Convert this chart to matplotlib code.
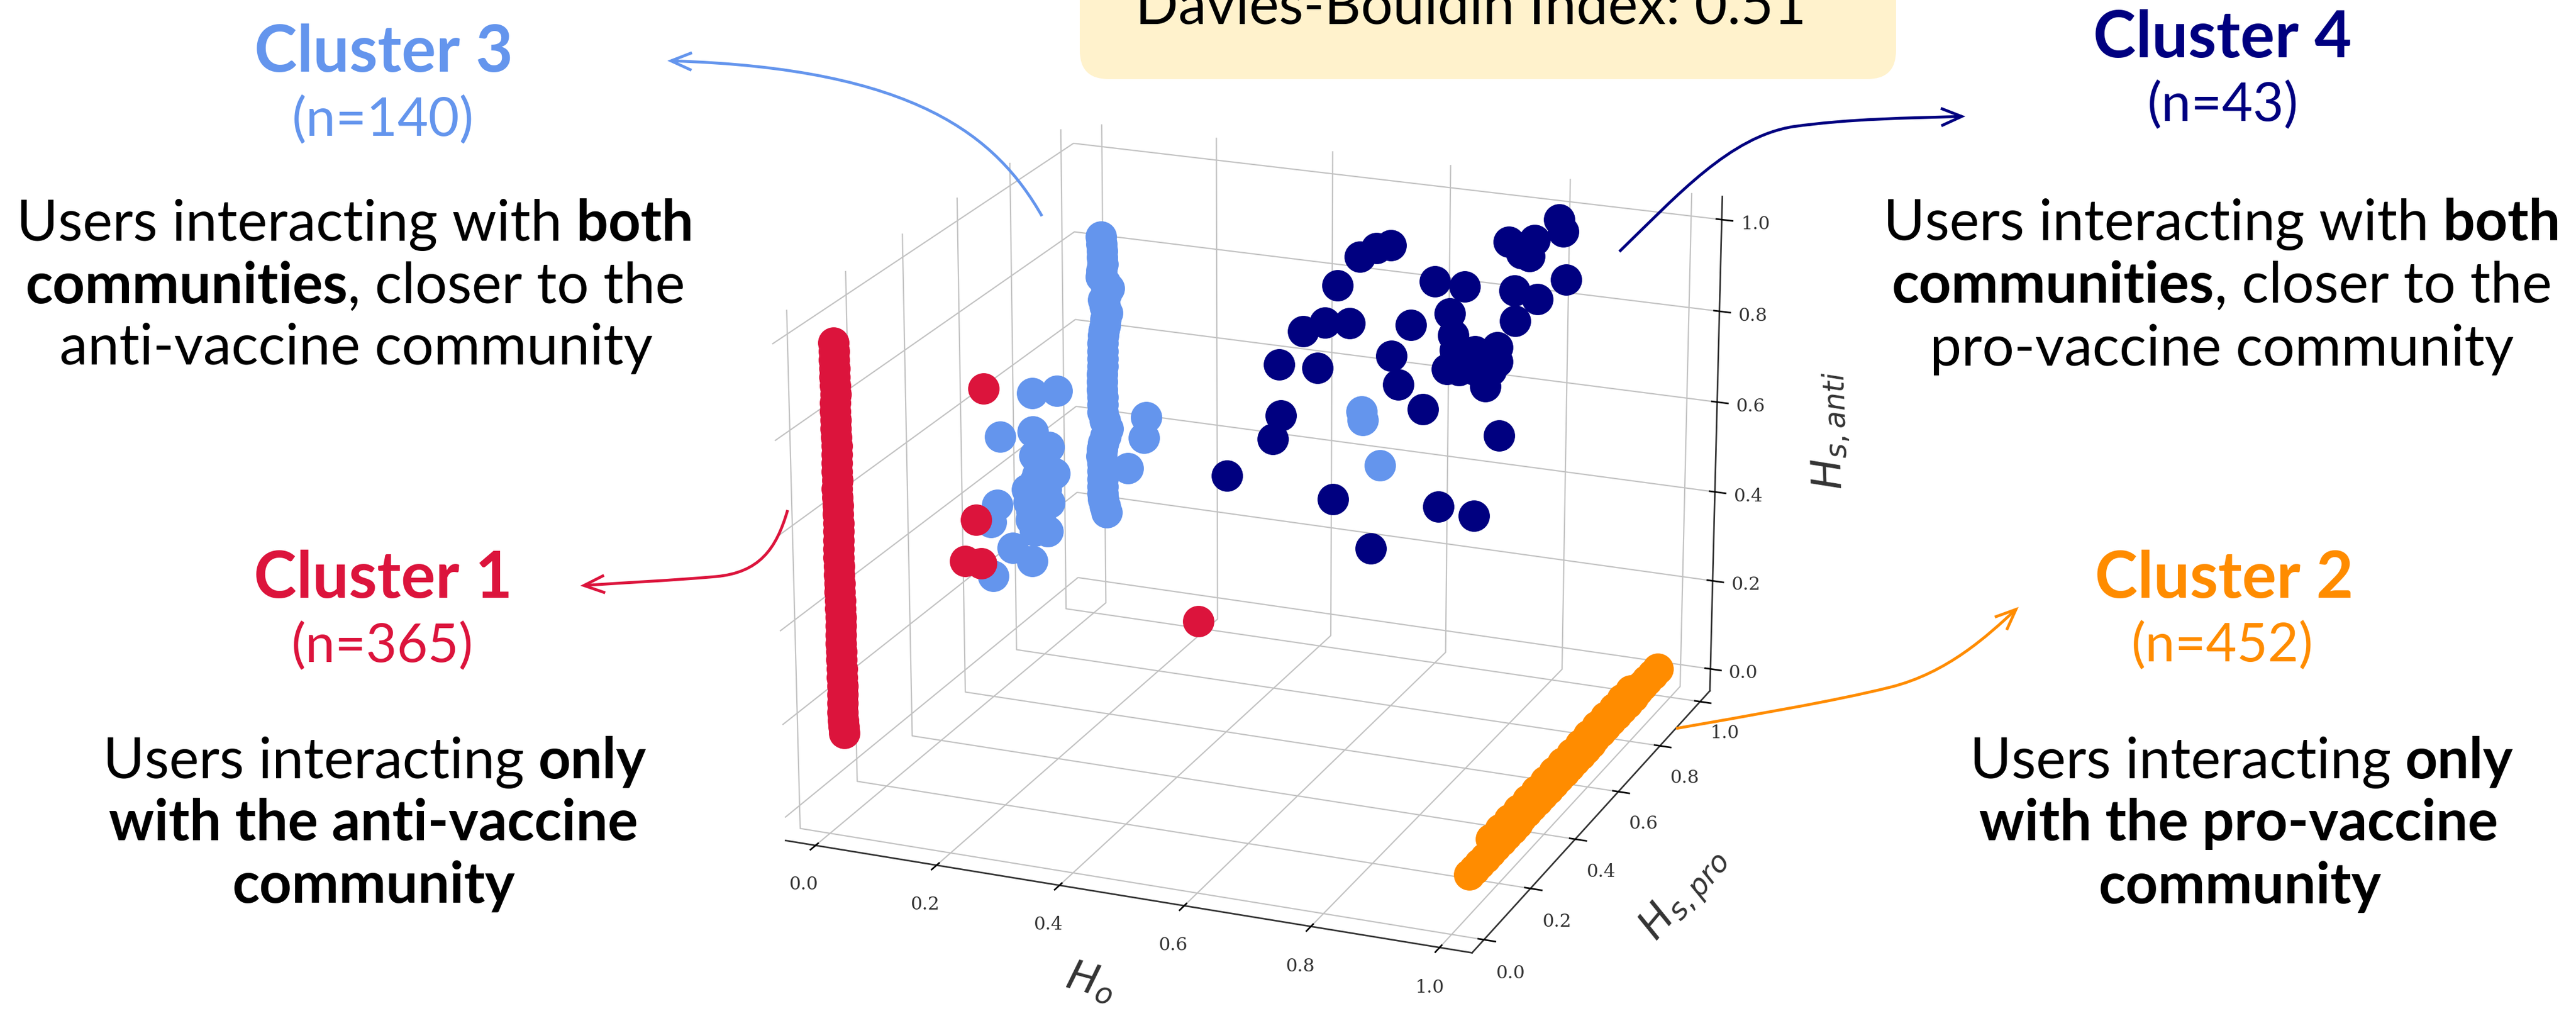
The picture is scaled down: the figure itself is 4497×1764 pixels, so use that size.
import matplotlib
matplotlib.use('Agg')
import matplotlib.pyplot as plt
from matplotlib.patches import FancyArrowPatch, FancyBboxPatch
from matplotlib.path import Path

# Cluster 1 (Ho, Hs_pro, Hs_anti)
red_ho = [0.0] * 47 + [0.036, 0.020, 0.0, 0.028, 0.395]
red_pro = [0.051, 0.052, 0.052, 0.053, 0.053, 0.053, 0.054, 0.053, 0.052, 0.053,
           0.053, 0.054, 0.054, 0.053, 0.053, 0.053, 0.053, 0.052, 0.052, 0.053,
           0.053, 0.054, 0.054, 0.053, 0.052, 0.052, 0.053, 0.053, 0.054, 0.053,
           0.053, 0.054, 0.054, 0.054, 0.054, 0.053, 0.053, 0.054, 0.054, 0.054,
           0.055, 0.054, 0.053, 0.053, 0.054, 0.055, 0.056,
           0.5, 0.5, 0.5, 0.5, 0.5]
red_anti = [0.969, 0.951, 0.933, 0.915, 0.897, 0.879, 0.861, 0.843, 0.825, 0.807,
            0.789, 0.771, 0.753, 0.735, 0.717, 0.699, 0.681, 0.663, 0.645, 0.627,
            0.609, 0.590, 0.572, 0.554, 0.536, 0.518, 0.499, 0.481, 0.462, 0.444,
            0.426, 0.408, 0.389, 0.371, 0.352, 0.334, 0.316, 0.298, 0.279, 0.260,
            0.241, 0.223, 0.205, 0.186, 0.167, 0.153, 0.139,
            0.689, 0.398, 0.303, 0.303, 0.244]

# Cluster 2
orange_ho = [0.996] * 10 + [0.994] * 14 + [0.992] * 8 + [0.990] * 5 + [0.980] * 17
orange_pro = [0.083, 0.105, 0.128, 0.151, 0.174, 0.197, 0.220, 0.243, 0.267, 0.290,
              0.314, 0.337, 0.361, 0.385, 0.409, 0.433, 0.457, 0.481, 0.506, 0.530,
              0.555, 0.580, 0.605, 0.630, 0.655, 0.680, 0.705, 0.730, 0.756, 0.782,
              0.808, 0.836, 0.864, 0.888, 0.911, 0.938, 0.964,
              0.220, 0.260, 0.300, 0.340, 0.380, 0.420, 0.460, 0.500, 0.540,
              0.580, 0.620, 0.660, 0.700, 0.740, 0.780, 0.820, 0.860]
orange_anti = [0.03] * 54

# Cluster 3
blue_ho = [0.106, 0.107, 0.108, 0.108, 0.108, 0.106, 0.105, 0.112, 0.119, 0.114,
           0.109, 0.112, 0.116, 0.113, 0.111, 0.109, 0.108, 0.107, 0.107, 0.107,
           0.107, 0.106, 0.106, 0.106, 0.106, 0.106, 0.106, 0.110, 0.115, 0.111,
           0.107, 0.105, 0.104, 0.105, 0.105, 0.105, 0.105, 0.105, 0.106, 0.109, 0.112,
           0.209, 0.249, 0.154, 0.209, 0.235, 0.244, 0.217, 0.211, 0.229, 0.201, 0.204, 0.231,
           0.173, 0.205, 0.148, 0.137, 0.140, 0.395, 0.391, 0.364, 0.740, 0.742, 0.770,
           0.211, 0.223, 0.216, 0.198,
           0.215, 0.225, 0.205, 0.215, 0.210, 0.205, 0.220, 0.210, 0.220, 0.235]
blue_pro = [0.8] * 41 + [0.3] * 37
blue_anti = [0.911, 0.895, 0.880, 0.866, 0.851, 0.837, 0.823, 0.811, 0.800, 0.786,
             0.772, 0.758, 0.745, 0.730, 0.716, 0.704, 0.693, 0.675, 0.658, 0.641,
             0.624, 0.606, 0.589, 0.572, 0.555, 0.538, 0.521, 0.503, 0.485, 0.468,
             0.452, 0.437, 0.422, 0.405, 0.388, 0.370, 0.353, 0.338, 0.324, 0.310, 0.296,
             0.794, 0.806, 0.692, 0.712, 0.684, 0.629, 0.651, 0.606, 0.593, 0.560, 0.522, 0.503,
             0.456, 0.434, 0.545, 0.505, 0.389, 0.775, 0.731, 0.662, 0.848, 0.830, 0.740,
             0.661, 0.636, 0.580, 0.587,
             0.620, 0.615, 0.580, 0.550, 0.575, 0.540, 0.520, 0.500, 0.650, 0.565]

# Cluster 4
navy_ho = [0.835, 0.842, 0.753, 0.795, 0.774, 0.787, 0.848, 0.763, 0.801, 0.765, 0.631, 0.681,
           0.656, 0.662, 0.591, 0.559, 0.571, 0.613, 0.505, 0.533, 0.557, 0.468, 0.410, 0.447,
           0.488, 0.369, 0.434, 0.372, 0.358, 0.279, 0.461, 0.640, 0.700, 0.526, 0.741, 0.736,
           0.736, 0.699, 0.679, 0.653, 0.673, 0.717, 0.700, 0.726, 0.666]
navy_pro = [0.9] * 45
navy_anti = [1.025, 1.000, 0.964, 0.974, 0.942, 0.938, 0.896, 0.859, 0.846, 0.793, 0.858, 0.854,
             0.792, 0.745, 0.756, 0.682, 0.620, 0.573, 0.891, 0.915, 0.925, 0.822, 0.711, 0.736,
             0.742, 0.631, 0.634, 0.517, 0.462, 0.365, 0.344, 0.360, 0.350, 0.244, 0.536, 0.731,
             0.699, 0.716, 0.690, 0.669, 0.669, 0.641, 0.674, 0.678, 0.713]

ticks = [0.0, 0.2, 0.4, 0.6, 0.8, 1.0]

CRIMSON = '#DC143C'
ORANGE = '#FF8C00'
BLUE = '#6495ED'
NAVY = '#000080'
BOX = '#FFF2CC'

W, H = 4497, 1765
FONT = 'Lato'

plt.rcParams['grid.color'] = '#c2c2c2'
plt.rcParams['grid.linewidth'] = 1.6
plt.rcParams['xtick.major.width'] = 2
plt.rcParams['ytick.major.width'] = 2
plt.rcParams['axes.linewidth'] = 2
plt.rcParams['axes.edgecolor'] = '#333333'

fig = plt.figure(figsize=(W / 100, H / 100), dpi=100)

# 3d part, stretched a little so it lands where the reference has it
ax = fig.add_axes([1205.7 / W, (H - 1917.6) / H, 1940.3 / W, 1987.8 / H], projection='3d')
ax.apply_aspect = lambda position=None: None
ax.patch.set_alpha(0)
ax.computed_zorder = False
ax.view_init(19.6, -68.0)
ax.set_proj_type('persp', focal_length=1.04)
ax.set_box_aspect((1, 1, 0.73))
ax.set_xlim(-0.05, 1.05)
ax.set_ylim(-0.05, 1.05)
ax.set_zlim(-0.05, 1.05)
ax.set_xticks(ticks)
ax.set_yticks(ticks)
ax.set_zticks(ticks)
for name in ['x', 'y', 'z']:
    ax.tick_params(axis=name, labelsize=23, labelcolor='#333333', labelfontfamily='DejaVu Serif', pad=20)
for a in (ax.xaxis, ax.yaxis, ax.zaxis):
    a.set_pane_color((1, 1, 1, 0))
    a.pane.set_edgecolor((1, 1, 1, 0))
    a.set_rotate_label(False)
ax.set_xlabel('$H_o$', fontsize=52, rotation=-15, color='#333333', labelpad=58)
ax.set_ylabel('$H_{s,pro}$', fontsize=52, rotation=50, color='#333333', labelpad=75)
ax.set_zlabel('$H_{s,anti}$', fontsize=52, rotation=92, color='#333333', labelpad=75)

size = 39.5 ** 2
ax.scatter(orange_ho, orange_pro, orange_anti, c=ORANGE, s=size, depthshade=False, linewidths=0, zorder=2)
ax.scatter(navy_ho, navy_pro, navy_anti, c=NAVY, s=size, depthshade=False, linewidths=0, zorder=3)
ax.scatter(blue_ho, blue_pro, blue_anti, c=BLUE, s=size, depthshade=False, linewidths=0, zorder=4)
ax.scatter(red_ho, red_pro, red_anti, c=CRIMSON, s=size, depthshade=False, linewidths=0, zorder=5)

# overlay for captions and arrows, in picture pixels
ov = fig.add_axes([0, 0, 1, 1], zorder=10)
ov.set_xlim(0, W)
ov.set_ylim(H, 0)
ov.axis('off')
ov.patch.set_alpha(0)
renderer = fig.canvas.get_renderer()


def text_width(s, fs, weight):
    t = ov.text(0, 0, '|' + s + '|', fontsize=fs, fontweight=weight, family=FONT)
    w = t.get_window_extent(renderer).width
    t.set_text('||')
    w -= t.get_window_extent(renderer).width
    t.remove()
    return w


def line(cx, y, runs, fs=71, color='black'):
    total = sum(text_width(s, fs, wt) for s, wt in runs)
    x = cx - total / 2
    for s, wt in runs:
        ov.text(x, y, s, fontsize=fs, fontweight=wt, family=FONT, color=color, va='baseline', ha='left')
        x += text_width(s, fs, wt)


n, b = 'normal', 'bold'
line(670, 125, [('Cluster 3', b)], fs=81, color=BLUE)
line(669, 237, [('(n=140)', n)], fs=67, color=BLUE)
line(620, 420, [('Users interacting with ', n), ('both', b)])
line(620, 529, [('communities', b), (', closer to the', n)])
line(622, 636, [('anti-vaccine community', n)])

line(3880, 100, [('Cluster 4', b)], fs=81, color=NAVY)
line(3881, 211, [('(n=43)', n)], fs=67, color=NAVY)
line(3879, 419, [('Users interacting with ', n), ('both', b)])
line(3879, 528, [('communities', b), (', closer to the', n)])
line(3879, 638, [('pro-vaccine community', n)])

line(669, 1043, [('Cluster 1', b)], fs=81, color=CRIMSON)
line(668, 1155, [('(n=365)', n)], fs=67, color=CRIMSON)
line(654, 1358, [('Users interacting ', n), ('only', b)])
line(652, 1466, [('with the anti-vaccine', b)])
line(653, 1575, [('community', b)])

line(3883, 1043, [('Cluster 2', b)], fs=81, color=ORANGE)
line(3880, 1154, [('(n=452)', n)], fs=67, color=ORANGE)
line(3913, 1358, [('Users interacting ', n), ('only', b)])
line(3908, 1466, [('with the pro-vaccine', b)])
line(3911, 1576, [('community', b)])

ov.add_patch(FancyBboxPatch((1935, -200), 1325, 289, boxstyle='round,pad=50,rounding_size=50',
                            fc=BOX, ec='none', zorder=0))
line(2568, 41, [('Davies-Bouldin Index: 0.51', n)])

C4 = Path.CURVE4
arrows = [
    (BLUE, [(1819, 378), (1740, 240), (1600, 120), (1165, 107)], [Path.MOVETO, C4, C4, C4]),
    (CRIMSON, [(1375, 891), (1355, 960), (1325, 1000), (1250, 1007), (1170, 1014), (1100, 1017), (1013, 1023)],
     [Path.MOVETO, C4, C4, C4, C4, C4, C4]),
    (NAVY, [(2827, 440), (2930, 340), (3020, 240), (3130, 222), (3230, 208), (3330, 207), (3431, 204)],
     [Path.MOVETO, C4, C4, C4, C4, C4, C4]),
    (ORANGE, [(2926, 1272), (3050, 1250), (3200, 1225), (3300, 1200), (3400, 1175), (3470, 1110), (3524, 1060)],
     [Path.MOVETO, C4, C4, C4, C4, C4, C4]),
]
for col, pts, codes in arrows:
    ov.add_patch(FancyArrowPatch(path=Path(pts, codes), arrowstyle='->,head_length=26,head_width=11',
                                 mutation_scale=1, lw=3.6, color=col, joinstyle='miter', capstyle='butt'))

fig.savefig('out.png', dpi=100)
